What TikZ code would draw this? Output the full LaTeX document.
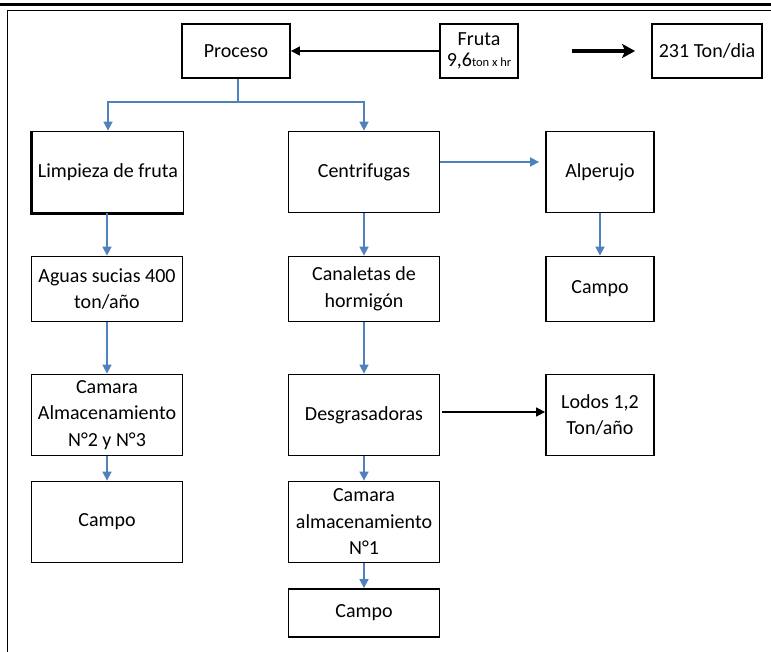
\documentclass[tikz,border=0pt]{standalone}
\usepackage{fontspec}
\setmainfont{Carlito}
\usetikzlibrary{arrows.meta,calc}
\definecolor{flowblue}{HTML}{4F81BD}
\begin{document}
\begin{tikzpicture}[x=1pt,y=-1pt,
  box/.style={draw=black, line width=1.8pt, align=center, inner sep=0pt,
    font=\fontsize{20}{26.5}\selectfont},
  bluearrow/.style={draw=flowblue, line width=1.6pt, -{Triangle[length=9pt,width=9pt]}},
  blueline/.style={draw=flowblue, line width=1.6pt},
  blackarrow/.style={draw=black, line width=1.3pt, -{Triangle[length=9pt,width=9pt]}},
  bigarrow/.style={draw=black, line width=3.4pt, -{Stealth[length=13pt,width=14pt,inset=3pt]}}]
\useasboundingbox (0,0) rectangle (771,652);
% frame
\draw[line width=3pt] (0,5) -- (771,5);
\draw[line width=1.4pt] (7.5,10.5) -- (771,10.5);
\draw[line width=1.4pt] (7.5,10.5) -- (7.5,652);
% nodes
\node[box, minimum width=108, minimum height=54] (proceso) at (236,51) {Proceso};
\node[box, minimum width=78, minimum height=54, font=\fontsize{20}{21}\selectfont] (fruta) at (479,51) {Fruta\\9,6{\fontsize{12.5}{12.5}\selectfont ton x hr}};
\node[box, minimum width=110, minimum height=54] (ton) at (707,51) {231 Ton/dia};
\node[box, minimum width=151, minimum height=81] (limpieza) at (108,172) {Limpieza de fruta};
\node[box, minimum width=151, minimum height=81] (centri) at (364,172) {Centrifugas};
\node[box, minimum width=108, minimum height=81] (alperujo) at (600,172) {Alperujo};
\node[box, minimum width=108, minimum height=65] (campoR) at (600,289) {Campo};
\node[box, minimum width=151, minimum height=65] (aguas) at (107,289) {Aguas sucias 400\\ton/año};
\node[box, minimum width=151, minimum height=65] (canaletas) at (364,289) {Canaletas de\\hormigón};
\node[box, minimum width=151, minimum height=81] (camara23) at (107,415) {Camara\\Almacenamiento\\N°2 y N°3};
\node[box, minimum width=151, minimum height=81] (desgr) at (364,415) {Desgrasadoras};
\node[box, minimum width=108, minimum height=81] (lodos) at (600,415) {Lodos 1,2\\Ton/año};
\node[box, minimum width=151, minimum height=81] (campoL) at (107,522) {Campo};
\node[box, minimum width=151, minimum height=81] (camara1) at (364,522) {Camara\\almacenamiento\\N°1};
\node[box, minimum width=151, minimum height=48] (campoB) at (364,613) {Campo};
% heavier edges of Limpieza box
\draw[line width=2.8pt] (limpieza.north west) -- (limpieza.south west) -- (limpieza.south east);
% connectors
\draw[blackarrow] (fruta.west) -- (proceso.east);
\draw[bigarrow, shorten <=53pt, shorten >=16pt] (fruta.east) -- (ton.west);
\coordinate (pj) at (238,102);
\draw[blueline] (proceso.south -| pj) -- (pj);
\draw[bluearrow] (pj) -| (limpieza.north);
\draw[bluearrow] (pj) -| (centri.north);
\draw[bluearrow, shorten >=6pt] ($(centri.east)+(0,-10)$) -- ($(alperujo.west)+(0,-10)$);
\draw[bluearrow] (alperujo.south) -- (campoR.north);
\draw[bluearrow] (limpieza.south -| aguas.north) -- (aguas.north);
\draw[bluearrow] (aguas.south) -- (camara23.north);
\draw[bluearrow] (camara23.south) -- (campoL.north);
\draw[bluearrow] (centri.south) -- (canaletas.north);
\draw[bluearrow] (canaletas.south) -- (desgr.north);
\draw[bluearrow] (desgr.south) -- (camara1.north);
\draw[bluearrow] (camara1.south) -- (campoB.north);
\draw[blackarrow] ($(desgr.east)+(2,-3)$) -- ($(lodos.west)+(0,-3)$);
\end{tikzpicture}
\end{document}
